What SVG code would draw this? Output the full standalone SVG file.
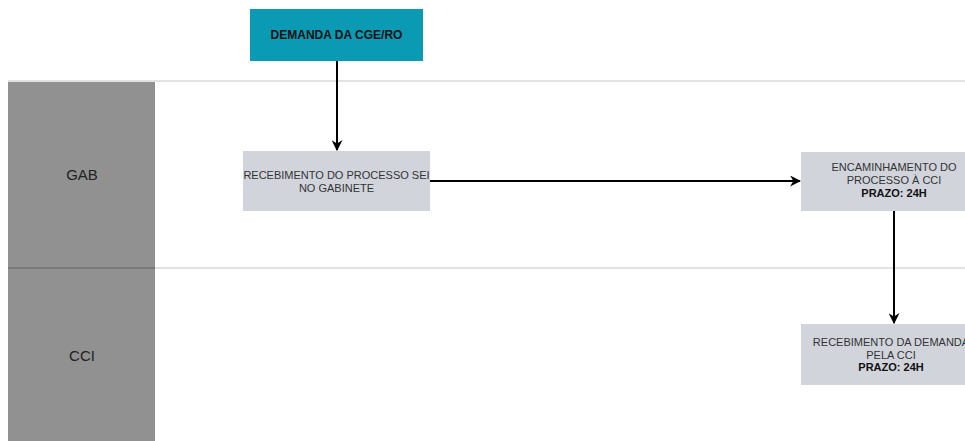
<svg xmlns="http://www.w3.org/2000/svg" width="965" height="441" viewBox="0 0 965 441">
<style>
.lane{fill:#919191}
.sep{stroke:#e2e2e2;stroke-width:2}
.lt{font-family:"Liberation Sans",Arial,sans-serif;font-size:15px;fill:#222;text-anchor:middle}
.box{fill:#d1d5db}
.t{font-family:"Liberation Sans",Arial,sans-serif;font-size:11px;fill:#333;text-anchor:middle}
.b{font-weight:bold;fill:#111}
.edge{stroke:#000;stroke-width:2;fill:none;marker-end:url(#ah)}
</style>
<defs>
<marker id="ah" viewBox="0 0 10 10" refX="9" refY="5" markerWidth="5.5" markerHeight="5.5" orient="auto" markerUnits="strokeWidth">
<path d="M0,0 L10,5 L0,10 L3,5 Z" fill="#000"/>
</marker>
</defs>
<rect width="965" height="441" fill="#fff"/>
<g id="lanes">
<rect class="lane" x="8" y="81" width="147" height="360"/>
<line class="sep" x1="8" y1="81" x2="965" y2="81"/>
<line class="sep" x1="8" y1="268" x2="965" y2="268"/>
<line x1="8" y1="268" x2="155" y2="268" stroke="#7a7a7a" stroke-width="2"/>
<text class="lt" x="82" y="180">GAB</text>
<text class="lt" x="82" y="361">CCI</text>
</g>
<g id="connectors">
<line class="edge" x1="337" y1="61" x2="337" y2="150"/>
<line class="edge" x1="430" y1="181" x2="800" y2="181"/>
<line class="edge" x1="894" y1="211" x2="894" y2="323"/>
</g>
<g id="demanda">
<rect x="250" y="9" width="173" height="52" fill="#0b9ab3"/>
<text class="t b" x="336.5" y="39" style="font-size:12px">DEMANDA DA CGE/RO</text>
</g>
<g id="recebimento-gab">
<rect class="box" x="243" y="151" width="187" height="60"/>
<text class="t" x="336.5" y="179">RECEBIMENTO DO PROCESSO SEI</text>
<text class="t" x="336.5" y="192">NO GABINETE</text>
</g>
<g id="encaminhamento">
<rect class="box" x="801" y="152" width="187" height="59"/>
<text class="t" x="894" y="171">ENCAMINHAMENTO DO</text>
<text class="t" x="894" y="184">PROCESSO À CCI</text>
<text class="t b" x="894" y="197">PRAZO: 24H</text>
</g>
<g id="recebimento-cci">
<rect class="box" x="801" y="324" width="187" height="61"/>
<text class="t" x="891" y="346">RECEBIMENTO DA DEMANDA</text>
<text class="t" x="891" y="359">PELA CCI</text>
<text class="t b" x="891" y="371">PRAZO: 24H</text>
</g>
</svg>
